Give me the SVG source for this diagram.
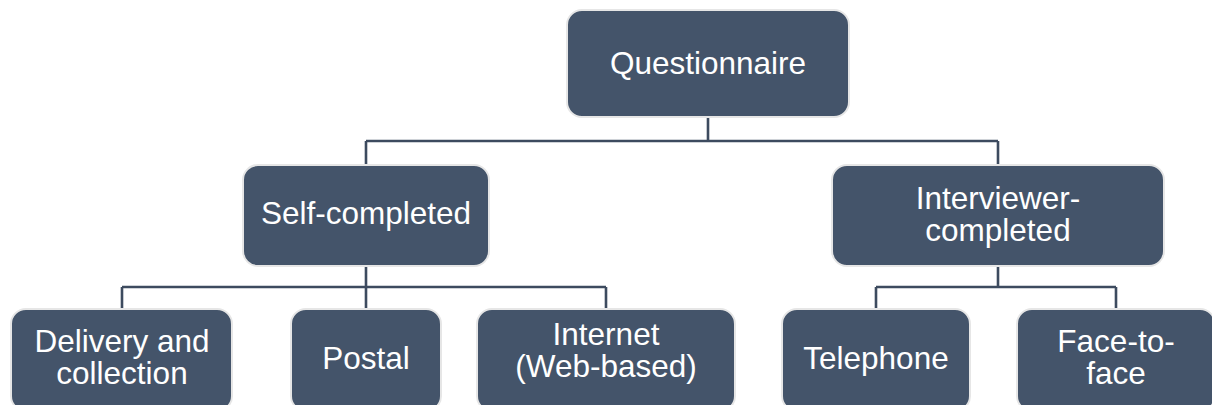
<svg xmlns="http://www.w3.org/2000/svg" width="1212" height="405" viewBox="0 0 1212 405">
  <style>
    .box { fill: #44546A; stroke: #E6E6E6; stroke-width: 2; }
    .label { fill: #FFFFFF; font-family: "Liberation Sans", Arial, sans-serif; font-size: 31.5px; text-anchor: middle; }
    .link { fill: none; stroke: #3D4B5F; stroke-width: 2.6; }
  </style>
  <rect width="1212" height="405" fill="#FFFFFF"/>

  <!-- connectors -->
  <g id="connectors">
    <path class="link" d="M708 117 V141 M366 141 H998 M366 141 V165 M998 141 V165"/>
    <path class="link" d="M366 266 V287 M122 287 H606 M122 287 V309 M366 287 V309 M606 287 V309"/>
    <path class="link" d="M998 266 V287 M876 287 H1116 M876 287 V309 M1116 287 V309"/>
  </g>

  <!-- root -->
  <g id="questionnaire">
    <rect class="box" x="567" y="10" width="282" height="107" rx="15"/>
    <text class="label" x="708" y="74">Questionnaire</text>
  </g>

  <!-- second level -->
  <g id="self-completed">
    <rect class="box" x="243" y="165" width="246" height="101" rx="15"/>
    <text class="label" x="366" y="224">Self-completed</text>
  </g>
  <g id="interviewer-completed">
    <rect class="box" x="832" y="165" width="332" height="101" rx="15"/>
    <text class="label" x="998" y="209">Interviewer-</text>
    <text class="label" x="998" y="241">completed</text>
  </g>

  <!-- third level -->
  <g id="delivery-collection">
    <rect class="box" x="11" y="309" width="221" height="102" rx="15"/>
    <text class="label" x="122" y="352">Delivery and</text>
    <text class="label" x="122" y="384">collection</text>
  </g>
  <g id="postal">
    <rect class="box" x="291" y="309" width="150" height="102" rx="15"/>
    <text class="label" x="366" y="369">Postal</text>
  </g>
  <g id="internet">
    <rect class="box" x="477" y="309" width="258" height="102" rx="15"/>
    <text class="label" x="606" y="345">Internet</text>
    <text class="label" x="606" y="377">(Web-based)</text>
  </g>
  <g id="telephone">
    <rect class="box" x="782" y="309" width="188" height="102" rx="15"/>
    <text class="label" x="876" y="369">Telephone</text>
  </g>
  <g id="face-to-face">
    <rect class="box" x="1017" y="309" width="198" height="102" rx="15"/>
    <text class="label" x="1116" y="352">Face-to-</text>
    <text class="label" x="1116" y="384">face</text>
  </g>
</svg>
